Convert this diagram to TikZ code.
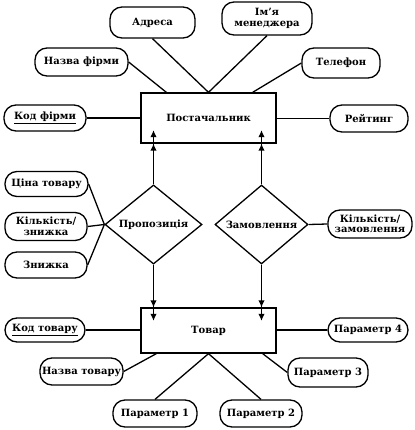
\documentclass[tikz,border=0pt]{standalone}
\usepackage{fontspec}
\setmainfont{DejaVu Serif}
\usetikzlibrary{shapes.geometric,arrows.meta}
\begin{document}
\begin{tikzpicture}[x=1pt,y=-1pt,
  every node/.style={font=\bfseries\fontsize{10}{10.5}\selectfont, inner sep=0pt, align=center},
  ent/.style={draw, line width=1.3pt, minimum width=135pt},
  attr/.style={draw, line width=1.3pt, rounded corners=12pt},
  rel/.style={draw, diamond, line width=1.3pt},
  conn/.style={line width=1.3pt},
  tip/.style={line width=1.3pt, -{Latex[length=7pt,width=6.5pt]}}
]
\useasboundingbox (0,0) rectangle (414,430);
% entities
\node[ent, minimum height=50pt] (post) at (208.5,118) {Постачальник};
\node[ent, minimum height=45pt] (tovar) at (208.5,330.5) {Товар};
% relationships
\node[rel, minimum width=97pt, minimum height=55pt] (prop) at (153.5,224.5) {Пропозиція};
\node[rel, minimum width=93pt, minimum height=55pt] (zam) at (261.5,224.5) {Замовлення};
% attributes of Постачальник
\node[attr, minimum width=85pt, minimum height=31pt] (adr) at (152.5,22.5) {Адреса};
\node[attr, minimum width=90pt, minimum height=33pt] (imya) at (267,18.5) {Ім’я\\менеджера};
\node[attr, minimum width=93pt, minimum height=28pt] (nf) at (81.5,62) {Назва фірми};
\node[attr, minimum width=78pt, minimum height=30pt] (tel) at (341,63) {Телефон};
\node[attr, minimum width=82pt, minimum height=26pt] (kf) at (45,118) {\underline{Код фірми}};
\node[attr, minimum width=78pt, minimum height=27pt] (reit) at (369,118.5) {Рейтинг};
% attributes of Пропозиція
\node[attr, minimum width=83pt, minimum height=25pt] (cina) at (46.5,184) {Ціна товару};
\node[attr, minimum width=82pt, minimum height=28pt] (kilz) at (46,226.5) {Кількість/\\знижка};
\node[attr, minimum width=82pt, minimum height=26pt] (znyzh) at (46,265) {Знижка};
% attribute of Замовлення
\node[attr, minimum width=84pt, minimum height=28pt] (kilzam) at (370,224) {Кількість/\\замовлення};
% attributes of Товар
\node[attr, minimum width=80pt, minimum height=24pt] (kt) at (45,330) {\underline{Код товару}};
\node[attr, minimum width=80pt, minimum height=24pt] (p4) at (368,330) {Параметр 4};
\node[attr, minimum width=83pt, minimum height=27pt] (nt) at (81.5,371.5) {Назва товару};
\node[attr, minimum width=80pt, minimum height=29pt] (p3) at (328,372.5) {Параметр 3};
\node[attr, minimum width=84pt, minimum height=27pt] (p1) at (155,413.5) {Параметр 1};
\node[attr, minimum width=82pt, minimum height=27pt] (p2) at (261,413.5) {Параметр 2};
% connectors Постачальник
\draw[conn] (nf.east) -- ([xshift=26pt]post.north west);
\draw[conn] (adr.south) -- (post.north);
\draw[conn] (imya.south) -- (post.north);
\draw[conn] (tel.west) -- ([xshift=-24pt]post.north east);
\draw[conn] (kf.east) -- (kf.east -| post.west);
\draw[conn] (reit.west) -- (reit.west -| post.east);
% relationship attributes
\draw[conn] (cina.east) -- (prop.west);
\draw[conn] (kilz.east) -- (prop.west);
\draw[conn] (znyzh.east) -- (prop.west);
\draw[conn] (zam.east) -- (kilzam.west);
% relationships to entities (double arrowheads)
\draw[tip] (prop.north) -- (prop.north |- post.south);
\draw[tip] (prop.north) -- ([yshift=13.5pt]prop.north |- post.south);
\draw[tip] (prop.south) -- (prop.south |- tovar.north);
\draw[tip] (prop.south) -- ([yshift=-13.5pt]prop.south |- tovar.north);
\draw[tip] (zam.north) -- (zam.north |- post.south);
\draw[tip] (zam.north) -- ([yshift=13.5pt]zam.north |- post.south);
\draw[tip] (zam.south) -- (zam.south |- tovar.north);
\draw[tip] (zam.south) -- ([yshift=-13.5pt]zam.south |- tovar.north);
% connectors Товар
\draw[conn] (kt.east) -- (kt.east -| tovar.west);
\draw[conn] (p4.west) -- (p4.west -| tovar.east);
\draw[conn] (nt.east) -- ([xshift=16pt]tovar.south west);
\draw[conn] (p1.north) -- (tovar.south);
\draw[conn] (p2.north) -- (tovar.south);
\draw[conn] (p3.west) -- ([xshift=-14pt]tovar.south east);
\end{tikzpicture}
\end{document}
